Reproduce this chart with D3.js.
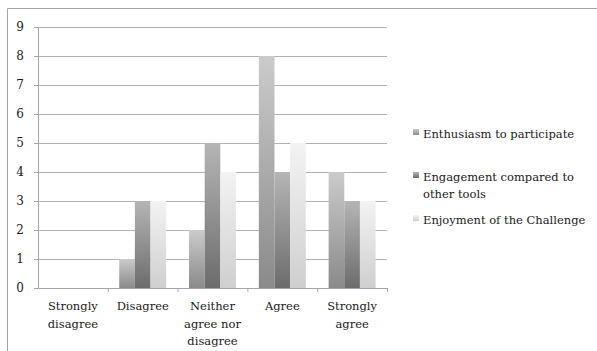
<!DOCTYPE html>
<html>
<head>
<meta charset="utf-8">
<script src="https://cdn.jsdelivr.net/npm/d3@7"></script>
<style>
  body { margin: 0; background: #fff; }
  svg { display: block; }
</style>
</head>
<body>
<div id="chart"></div>
<script>
// Survey responses
const categories = ["Strongly disagree", "Disagree", "Neither agree nor disagree", "Agree", "Strongly agree"];
const categoryLines = [["Strongly", "disagree"], ["Disagree"], ["Neither", "agree nor", "disagree"], ["Agree"], ["Strongly", "agree"]];
const seriesNames = ["Enthusiasm to participate", "Engagement compared to other tools", "Enjoyment of the Challenge"];
const enthusiasm = [0, 1, 2, 8, 4];
const engagement = [0, 3, 5, 4, 3];
const enjoyment = [0, 3, 4, 5, 3];
const yTicks = [0, 1, 2, 3, 4, 5, 6, 7, 8, 9];

const WIDTH = 597, HEIGHT = 351;
const MARGINS = {top: 27, left: 38, right: 210, bottom: 63};
const innerW = WIDTH - MARGINS.left - MARGINS.right;
const innerH = HEIGHT - MARGINS.top - MARGINS.bottom;
const FONT = "'DejaVu Serif', serif";
const FONT_SIZE = "11.5px";

const seriesValues = [enthusiasm, engagement, enjoyment];
const gradStops = [["#cbcbcb", "#8a8a8a"], ["#b5b5b5", "#6c6c6c"], ["#f3f3f3", "#cfcfcf"]];

const svg = d3.select("#chart").append("svg")
    .attr("width", WIDTH)
    .attr("height", HEIGHT);

// gradients, one per series
const defs = svg.append("defs");
gradStops.forEach((s, i) => {
    const g = defs.append("linearGradient")
        .attr("id", `grad${i}`)
        .attr("x1", 0).attr("y1", 0).attr("x2", 0).attr("y2", 1);
    g.append("stop").attr("offset", "0%").attr("stop-color", s[0]);
    g.append("stop").attr("offset", "100%").attr("stop-color", s[1]);
});

// outer frame (top and left edges visible)
svg.append("path")
    .attr("d", `M7.5,${HEIGHT} V8.5 H${WIDTH}`)
    .attr("fill", "none")
    .attr("stroke", "#a6a6a6")
    .attr("stroke-width", 1);

const g = svg.append("g")
    .attr("transform", `translate(${MARGINS.left}, ${MARGINS.top})`);

const xScale = d3.scaleBand().domain(categories).range([0, innerW]);
const x1 = d3.scaleBand().domain(d3.range(seriesNames.length))
    .range([0, xScale.bandwidth()]).paddingOuter(0.73).paddingInner(0);
const yScale = d3.scaleLinear().domain([0, 9]).range([innerH, 0]);

// gridlines
g.append("g")
    .selectAll("line")
    .data(yTicks.slice(1))
    .enter()
    .append("line")
    .attr("x1", 0).attr("x2", innerW)
    .attr("y1", d => Math.round(yScale(d)) + 0.5)
    .attr("y2", d => Math.round(yScale(d)) + 0.5)
    .attr("stroke", "#b3b3b3");

// bars
seriesValues.forEach((vals, si) => {
    g.append("g")
        .selectAll("rect")
        .data(vals)
        .enter()
        .append("rect")
        .attr("x", (d, i) => xScale(categories[i]) + x1(si))
        .attr("y", d => yScale(d))
        .attr("width", x1.bandwidth())
        .attr("height", d => innerH - yScale(d))
        .attr("fill", `url(#grad${si})`);
});

// y axis
const yAxis = g.append("g")
    .call(d3.axisLeft(yScale).tickValues(yTicks).tickSize(4).tickPadding(10).tickSizeOuter(0));
yAxis.select(".domain").attr("stroke", "#a6a6a6");
yAxis.selectAll(".tick line").attr("stroke", "#a6a6a6");
yAxis.selectAll(".tick text")
    .style("font-family", FONT)
    .style("font-size", "12px")
    .attr("fill", "#1a1a1a");

// x axis
const xAxis = g.append("g")
    .attr("transform", `translate(0, ${innerH})`)
    .call(d3.axisBottom(xScale).tickSize(0).tickFormat(""));
xAxis.select(".domain").attr("stroke", "#a6a6a6");
xAxis.selectAll(".tick").remove();
// boundary ticks between categories
xAxis.selectAll("line.sep")
    .data(categories)
    .enter()
    .append("line")
    .attr("class", "sep")
    .attr("x1", d => xScale(d) + xScale.bandwidth() + 0.5)
    .attr("x2", d => xScale(d) + xScale.bandwidth() + 0.5)
    .attr("y1", 0).attr("y2", 4)
    .attr("stroke", "#a6a6a6");

// category labels (multi-line)
const labels = g.append("g")
    .selectAll("text")
    .data(categories)
    .enter()
    .append("text")
    .attr("x", d => xScale(d) + xScale.bandwidth() / 2)
    .attr("y", innerH + 22)
    .attr("text-anchor", "middle")
    .style("font-family", FONT)
    .style("font-size", FONT_SIZE)
    .attr("fill", "#1a1a1a");
labels.each(function(d, i) {
    d3.select(this).selectAll("tspan")
        .data(categoryLines[i])
        .enter()
        .append("tspan")
        .attr("x", xScale(d) + xScale.bandwidth() / 2)
        .attr("dy", (t, j) => j === 0 ? 0 : 17.5)
        .text(t => t);
});

// legend
const legendLines = [["Enthusiasm to participate"], ["Engagement compared to", "other tools"], ["Enjoyment of the Challenge"]];
const legendY = [138, 181, 224];
const legend = svg.append("g");
seriesNames.forEach((name, i) => {
    legend.append("rect")
        .attr("x", 413)
        .attr("y", legendY[i] - 9)
        .attr("width", 6)
        .attr("height", 6)
        .attr("fill", `url(#grad${i})`);
    const t = legend.append("text")
        .attr("x", 423)
        .attr("y", legendY[i])
        .style("font-family", FONT)
        .style("font-size", FONT_SIZE)
        .attr("fill", "#1a1a1a");
    legendLines[i].forEach((line, j) => {
        t.append("tspan")
            .attr("x", 423)
            .attr("dy", j === 0 ? 0 : 16.5)
            .text(line);
    });
});
</script>
</body>
</html>
